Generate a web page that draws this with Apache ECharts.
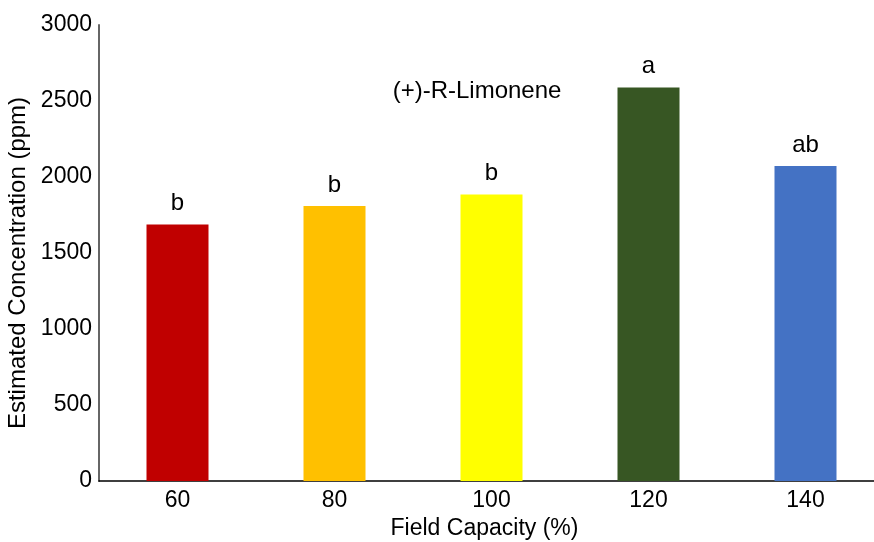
<!DOCTYPE html>
<html>
<head>
<meta charset="utf-8">
<script src="https://cdn.jsdelivr.net/npm/echarts@6/dist/echarts.min.js"></script>
<style>
  html, body { margin: 0; padding: 0; background: #fff; }
  #chart { width: 874px; height: 542px; }
</style>
</head>
<body>
<div id="chart"></div>
<script>
// Field capacity treatments and estimated limonene concentration
const categories = ['60', '80', '100', '120', '140'];
const concentration = [1688, 1810, 1885, 2588, 2072];
const groupLetters = ['b', 'b', 'b', 'a', 'ab'];
const barColors = ['#C00000', '#FFC000', '#FFFF00', '#375623', '#4472C4'];
const yTicks = [0, 500, 1000, 1500, 2000, 2500, 3000];

const FONT = 'Liberation Sans, Arial, sans-serif';

const chart = echarts.init(document.getElementById('chart'), null, { renderer: 'canvas' });

chart.setOption({
  animation: false,
  backgroundColor: '#ffffff',
  title: {
    text: '(+)-R-Limonene',
    left: 472,
    top: 74,
    textAlign: 'center',
    textStyle: { fontFamily: FONT, fontSize: 24, fontWeight: 'normal', color: '#000' }
  },
  grid: {
    left: 99, right: -10, top: 25, bottom: 61,
    containLabel: false,
    outerBoundsMode: 'none'
  },
  xAxis: {
    type: 'category',
    data: categories,
    name: 'Field Capacity (%)',
    nameLocation: 'middle',
    nameGap: 35,
    nameTextStyle: { fontFamily: FONT, fontSize: 23, color: '#000', padding: [0, 14, 0, 0] },
    axisLine: { lineStyle: { color: '#000', width: 1.5 } },
    axisTick: { show: false },
    axisLabel: { fontFamily: FONT, fontSize: 23, color: '#000', margin: 8 }
  },
  yAxis: {
    type: 'value',
    min: yTicks[0],
    max: yTicks[yTicks.length - 1],
    interval: 500,
    name: 'Estimated Concentration (ppm)',
    nameLocation: 'middle',
    nameGap: 62,
    nameTextStyle: { fontFamily: FONT, fontSize: 24, color: '#000', padding: [0, 20, 0, 0] },
    axisLine: { show: true, lineStyle: { color: '#666', width: 2 } },
    axisTick: { show: false },
    splitLine: { show: false },
    axisLabel: {
      fontFamily: FONT, fontSize: 23, color: '#000', margin: 7,
      formatter: v => String(v)
    }
  },
  series: [{
    type: 'bar',
    barWidth: 62,
    data: concentration.map((v, i) => ({ value: v, itemStyle: { color: barColors[i] } })),
    label: {
      show: true,
      position: 'top',
      distance: 9,
      fontFamily: FONT,
      fontSize: 24,
      color: '#000',
      formatter: p => groupLetters[p.dataIndex]
    }
  }]
});
</script>
</body>
</html>
